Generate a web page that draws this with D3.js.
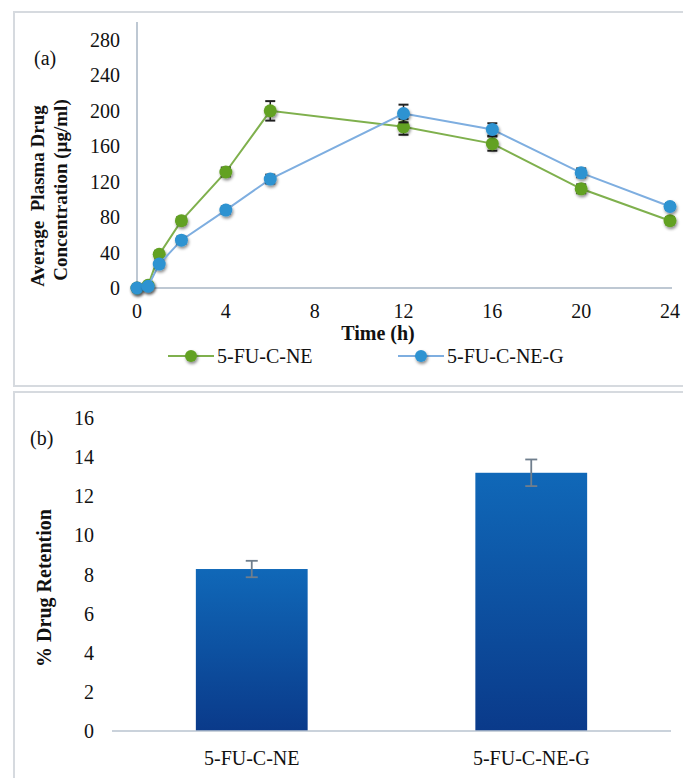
<!DOCTYPE html>
<meta charset="utf-8">
<script src="https://d3js.org/d3.v7.min.js"></script>
<style>
  body { margin: 0; background: #fff; }
</style>
<div id="chart"></div>
<script>
// panel (a): plasma concentration vs time
var times = [0, 0.5, 1, 2, 4, 6, 12, 16, 20, 24];
var neValues  = [0, 3, 38, 76, 131, 200, 182, 163, 112, 76];
var neErrors  = [2, 2, 4, 4, 5, 11, 9, 8, 5, 4];
var negValues = [0, 2, 27, 54, 88, 123, 197, 179, 130, 92];
var negErrors = [2, 2, 4, 4, 4, 5, 10, 7, 5, 4];
var timeTicks = [0, 4, 8, 12, 16, 20, 24];
var concTicks = [0, 40, 80, 120, 160, 200, 240, 280];
var seriesNames = ["5-FU-C-NE", "5-FU-C-NE-G"];

// panel (b): drug retention
var formulations = ["5-FU-C-NE", "5-FU-C-NE-G"];
var retention = [8.28, 13.2];
var retentionErr = [0.42, 0.68];
var retentionTicks = [0, 2, 4, 6, 8, 10, 12, 14, 16];

var W = 683, H = 778;
var serif = "'Liberation Serif', 'DejaVu Serif', 'Times New Roman', serif";
var svg = d3.select("#chart").append("svg")
  .attr("width", W).attr("height", H)
  .attr("font-family", serif)
  .style("font-family", serif);

var defs = svg.append("defs");
var shadow = defs.append("filter").attr("id", "shadow")
  .attr("x", "-50%").attr("y", "-50%").attr("width", "200%").attr("height", "200%");
shadow.append("feDropShadow")
  .attr("dx", 1).attr("dy", 2).attr("stdDeviation", 1.5)
  .attr("flood-color", "#000").attr("flood-opacity", 0.45);

var grad = defs.append("linearGradient").attr("id", "barGrad")
  .attr("x1", 0).attr("y1", 0).attr("x2", 0).attr("y2", 1);
grad.append("stop").attr("offset", "0%").attr("stop-color", "#1068b8");
grad.append("stop").attr("offset", "100%").attr("stop-color", "#0a3a8a");

// panel frames
svg.append("rect").attr("x", 14).attr("y", 12).attr("width", 690).attr("height", 374)
  .attr("fill", "none").attr("stroke", "#d6dadf").attr("stroke-width", 2);
svg.append("rect").attr("x", 14).attr("y", 392).attr("width", 690).attr("height", 400)
  .attr("fill", "none").attr("stroke", "#d6dadf").attr("stroke-width", 2);

// ---------- panel (a) ----------
var x = d3.scaleLinear().domain([0, 24]).range([137, 670]);
var y = d3.scaleLinear().domain([0, 280]).range([288, 40]);
var axisColor = "#a9b6c4";

svg.append("line").attr("x1", x(0)).attr("x2", x(0)).attr("y1", 22).attr("y2", y(0))
  .attr("stroke", axisColor).attr("stroke-width", 1.5);
svg.append("line").attr("x1", x(0)).attr("x2", 672).attr("y1", y(0)).attr("y2", y(0))
  .attr("stroke", axisColor).attr("stroke-width", 1.5);

svg.selectAll(".ytickA").data(concTicks).enter().append("text")
  .attr("x", 120).attr("y", function(d) { return y(d); })
  .attr("dy", "0.35em").attr("text-anchor", "end")
  .attr("font-size", 20).attr("fill", "#111").text(function(d) { return d; });

svg.selectAll(".xtickA").data(timeTicks).enter().append("text")
  .attr("x", function(d) { return x(d); }).attr("y", 318)
  .attr("text-anchor", "middle").attr("font-size", 20).attr("fill", "#111")
  .text(function(d) { return d; });

svg.append("text").attr("x", 378).attr("y", 340).attr("text-anchor", "middle")
  .attr("font-size", 20).attr("font-weight", "bold").attr("fill", "#111").text("Time (h)");

svg.append("text").attr("transform", "translate(44,196) rotate(-90)")
  .attr("text-anchor", "middle").attr("font-size", 19).attr("font-weight", "bold")
  .attr("fill", "#111").style("white-space", "pre").text("Average  Plasma Drug");
svg.append("text").attr("transform", "translate(67,190) rotate(-90)")
  .attr("text-anchor", "middle").attr("font-size", 19).attr("font-weight", "bold")
  .attr("fill", "#111").text("Concentration (µg/ml)");

svg.append("text").attr("x", 34).attr("y", 65).attr("font-size", 20).attr("fill", "#111").text("(a)");

var series = [
  { name: seriesNames[0], values: neValues, errors: neErrors, line: "#7fb04d", fill: "#62a124" },
  { name: seriesNames[1], values: negValues, errors: negErrors, line: "#7eaee0", fill: "#2f93d1" }
];

var line = d3.line()
  .x(function(d) { return x(d.t); })
  .y(function(d) { return y(d.v); });

series.forEach(function(s) {
  var pts = times.map(function(t, i) { return { t: t, v: s.values[i], e: s.errors[i] }; });
  svg.append("path").datum(pts).attr("d", line)
    .attr("fill", "none").attr("stroke", s.line).attr("stroke-width", 2);

  var eb = svg.append("g").selectAll("g").data(pts).enter().append("g");
  eb.append("line")
    .attr("x1", function(d) { return x(d.t); }).attr("x2", function(d) { return x(d.t); })
    .attr("y1", function(d) { return y(d.v + d.e); }).attr("y2", function(d) { return y(d.v - d.e); })
    .attr("stroke", "#222").attr("stroke-width", 1.5);
  [1, -1].forEach(function(sign) {
    eb.append("line")
      .attr("x1", function(d) { return x(d.t) - 5; }).attr("x2", function(d) { return x(d.t) + 5; })
      .attr("y1", function(d) { return y(d.v + sign * d.e); })
      .attr("y2", function(d) { return y(d.v + sign * d.e); })
      .attr("stroke", "#222").attr("stroke-width", 2);
  });

  svg.append("g").selectAll("circle").data(pts).enter().append("circle")
    .attr("cx", function(d) { return x(d.t); })
    .attr("cy", function(d) { return y(d.v); })
    .attr("r", 6.5)
    .attr("fill", function(d, i) { return (i === 0 && s === series[0]) ? "#1e6a1c" : s.fill; })
    .attr("filter", "url(#shadow)");
});

// legend
var legendX = [168, 398];
series.forEach(function(s, i) {
  var lx = legendX[i], ly = 356;
  svg.append("line").attr("x1", lx).attr("x2", lx + 46).attr("y1", ly).attr("y2", ly)
    .attr("stroke", s.line).attr("stroke-width", 2);
  svg.append("circle").attr("cx", lx + 23).attr("cy", ly).attr("r", 6)
    .attr("fill", s.fill).attr("filter", "url(#shadow)");
  svg.append("text").attr("x", lx + 49).attr("y", ly).attr("dy", "0.35em")
    .attr("font-size", 20).attr("fill", "#111").text(s.name);
});

// ---------- panel (b) ----------
var xb = d3.scaleBand().domain(formulations).range([112, 671]).paddingInner(0.6).paddingOuter(0.3);
var yb = d3.scaleLinear().domain([0, 16]).range([731, 418]);

svg.selectAll(".ytickB").data(retentionTicks).enter().append("text")
  .attr("x", 94).attr("y", function(d) { return yb(d); })
  .attr("dy", "0.35em").attr("text-anchor", "end")
  .attr("font-size", 20).attr("fill", "#111").text(function(d) { return d; });

svg.append("text").attr("x", 30).attr("y", 445).attr("font-size", 20).attr("fill", "#111").text("(b)");

svg.append("text").attr("transform", "translate(51,588) rotate(-90)")
  .attr("text-anchor", "middle").attr("font-size", 20).attr("font-weight", "bold")
  .attr("fill", "#111").text("% Drug Retention");

svg.selectAll(".bar").data(formulations).enter().append("rect")
  .attr("x", function(d) { return xb(d); })
  .attr("width", xb.bandwidth())
  .attr("y", function(d, i) { return yb(retention[i]); })
  .attr("height", function(d, i) { return yb(0) - yb(retention[i]); })
  .attr("fill", "url(#barGrad)");

svg.append("line").attr("x1", 112).attr("x2", 671).attr("y1", yb(0)).attr("y2", yb(0))
  .attr("stroke", "#b8c3cf").attr("stroke-width", 1.5);

formulations.forEach(function(f, i) {
  var cx = xb(f) + xb.bandwidth() / 2;
  var top = yb(retention[i] + retentionErr[i]), bot = yb(retention[i] - retentionErr[i]);
  svg.append("line").attr("x1", cx).attr("x2", cx).attr("y1", top).attr("y2", bot)
    .attr("stroke", "#6f7e8d").attr("stroke-width", 1.8);
  [top, bot].forEach(function(yy) {
    svg.append("line").attr("x1", cx - 6).attr("x2", cx + 6).attr("y1", yy).attr("y2", yy)
      .attr("stroke", "#6f7e8d").attr("stroke-width", 1.8);
  });
});

svg.selectAll(".xtickB").data(formulations).enter().append("text")
  .attr("x", function(d) { return xb(d) + xb.bandwidth() / 2; })
  .attr("y", 765).attr("text-anchor", "middle").attr("font-size", 20).attr("fill", "#111")
  .text(function(d) { return d; });
</script>
